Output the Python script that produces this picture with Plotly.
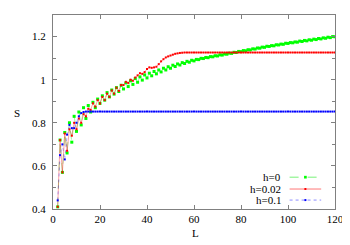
import plotly.graph_objects as go

L = list(range(2, 121))

s_h0 = [0.41, 0.72, 0.57, 0.755, 0.66, 0.80, 0.71, 0.83, 0.76, 0.85, 0.79, 0.87, 0.82, 0.88,
        0.85, 0.895, 0.87, 0.91, 0.89, 0.925, 0.905, 0.94, 0.92, 0.952, 0.933, 0.963, 0.945, 0.974,
        0.957, 0.985, 0.968, 0.995, 0.978, 1.005, 0.988, 1.013, 0.998, 1.022, 1.008, 1.030, 1.018,
        1.038, 1.027, 1.045, 1.036, 1.053, 1.045, 1.060, 1.053, 1.067, 1.061, 1.073, 1.068, 1.079,
        1.075, 1.085, 1.081, 1.090, 1.087,
        1.094, 1.093, 1.099, 1.098, 1.103, 1.102, 1.107, 1.106, 1.111, 1.110, 1.115, 1.114, 1.119,
        1.118, 1.123, 1.122, 1.127, 1.126, 1.131, 1.130, 1.135, 1.134, 1.139, 1.138, 1.143, 1.142,
        1.147, 1.146, 1.151, 1.150, 1.155, 1.154, 1.158, 1.157, 1.162, 1.161, 1.165, 1.164, 1.169,
        1.168, 1.172, 1.171, 1.175, 1.174, 1.179, 1.177, 1.182, 1.180, 1.185, 1.183, 1.188, 1.186,
        1.191, 1.189, 1.194, 1.192, 1.197, 1.195, 1.200, 1.199]

s_h002 = [0.41, 0.72, 0.57, 0.75, 0.67, 0.77, 0.74, 0.80, 0.77, 0.82, 0.80, 0.84, 0.83, 0.865,
          0.86, 0.89, 0.875, 0.905, 0.89, 0.92, 0.905, 0.935, 0.92, 0.95, 0.935, 0.963, 0.948, 0.975,
          0.975, 0.99, 0.985, 1.0, 0.995, 1.01, 1.02, 1.03, 1.027, 1.035, 1.05, 1.057, 1.055, 1.057,
          1.06, 1.072, 1.085, 1.095, 1.103, 1.108, 1.112, 1.116, 1.12, 1.122, 1.124, 1.125] + [1.126] * 65

s_h01 = [0.44, 0.65, 0.70, 0.63, 0.745, 0.79, 0.775, 0.775, 0.80, 0.83, 0.845, 0.85] + [0.852] * 107

x_ticks = [0, 20, 40, 60, 80, 100, 120]
y_ticks = [0.4, 0.6, 0.8, 1.0, 1.2]
y_tick_labels = ["0.4", "0.6", "0.8", "1", "1.2"]
names = ["h=0", "h=0.02", "h=0.1"]

FONT = "Liberation Serif"
GRAY = "#808080"

fig = go.Figure()
fig.add_trace(go.Scatter(x=L, y=s_h0, mode="lines+markers", name=names[0],
                         line=dict(color="rgba(0,230,0,0.5)", width=0.7, dash="dash"),
                         marker=dict(symbol="square", size=3, color="#00ff00")))
fig.add_trace(go.Scatter(x=L, y=s_h002, mode="lines+markers", name=names[1],
                         line=dict(color="rgba(255,0,0,0.45)", width=0.8),
                         marker=dict(symbol="square", size=2, color="#ff0000")))
fig.add_trace(go.Scatter(x=L, y=s_h01, mode="lines+markers", name=names[2],
                         line=dict(color="rgba(0,0,255,0.4)", width=0.8, dash="dot"),
                         marker=dict(symbol="square", size=2, color="#0000ff")))

axis_common = dict(showline=True, linecolor=GRAY, linewidth=1.2, mirror="allticks",
                   ticks="inside", ticklen=4, tickcolor=GRAY, showgrid=False, zeroline=False,
                   tickfont=dict(family=FONT, size=11, color="black"))

fig.update_xaxes(range=[0, 120], tickvals=x_ticks, **axis_common)
fig.update_yaxes(range=[0.4, 1.3], tickvals=y_ticks, ticktext=y_tick_labels,
                 minor=dict(dtick=0.1, tick0=0.4, ticks="inside", ticklen=2.5, tickcolor=GRAY),
                 ticklabelstandoff=4, **axis_common)

# custom gnuplot-like legend
rows_y = [0.164, 0.103, 0.046]
colors = ["#00ff00", "#ff0000", "#0000ff"]
line_cols = ["rgba(0,230,0,0.6)", "rgba(255,0,0,0.6)", "rgba(0,0,255,0.5)"]
dashes = ["dash", "solid", "dot"]
msz = [0.0095, 0.007, 0.007]
shapes = []
annotations = []
for i in range(3):
    y = rows_y[i]
    annotations.append(dict(x=0.814, y=y, xref="paper", yref="paper", text=names[i],
                            showarrow=False, xanchor="right", yanchor="middle",
                            font=dict(family=FONT, size=11, color="black")))
    shapes.append(dict(type="line", xref="paper", yref="paper", x0=0.839, x1=0.951, y0=y, y1=y,
                       line=dict(color=line_cols[i], width=0.9, dash=dashes[i])))
    hx = msz[i] / 2
    hy = hx * 285 / 195
    shapes.append(dict(type="rect", xref="paper", yref="paper", x0=0.895 - hx, x1=0.895 + hx,
                       y0=y - hy, y1=y + hy, line=dict(width=0), fillcolor=colors[i]))

annotations.append(dict(x=-0.144, y=0.497, xref="paper", yref="paper", text="S", showarrow=False,
                        font=dict(family=FONT, size=11, color="black")))
annotations.append(dict(x=0.505, y=-0.165, xref="paper", yref="paper", text="L", showarrow=False,
                        font=dict(family=FONT, size=11, color="black")))

# page body has an 8px default margin, so the figure is sized/offset to compensate
fig.update_layout(width=342, height=237, margin=dict(l=45, r=12, t=6, b=36),
                  plot_bgcolor="white", paper_bgcolor="white", showlegend=False,
                  shapes=shapes, annotations=annotations)

fig.write_html("out.html")
